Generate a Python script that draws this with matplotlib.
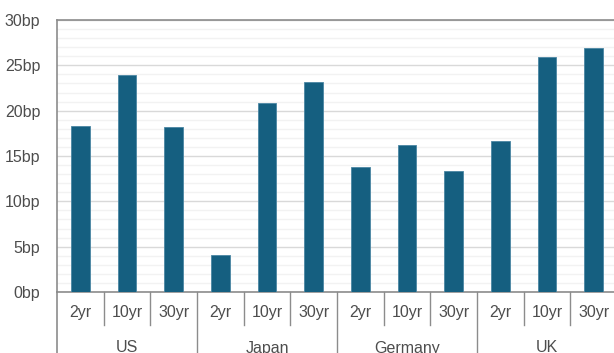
import matplotlib
matplotlib.use('Agg')
import matplotlib.pyplot as plt
from matplotlib import font_manager
from matplotlib.transforms import blended_transform_factory
import numpy as np

# Data
countries = ['US', 'Japan', 'Germany', 'UK']
tenors = ['2yr', '10yr', '30yr']
us = [18.3, 23.9, 18.2]
japan = [4.1, 20.9, 23.2]
germany = [13.8, 16.2, 13.3]
uk = [16.6, 25.9, 26.9]
yticks = [0, 5, 10, 15, 20, 25, 30]
ytick_labels = ['0bp', '5bp', '10bp', '15bp', '20bp', '25bp', '30bp']

BAR = '#155f80'
AXIS = '#8c8c8c'
TEXT = '#4d4d4d'

names = {f.name for f in font_manager.fontManager.ttflist}
if 'Liberation Sans Narrow' in names:
    plt.rcParams['font.family'] = ['Liberation Sans Narrow', 'DejaVu Sans']
    FS = 12.5
else:
    plt.rcParams['font.family'] = ['Liberation Sans', 'DejaVu Sans']
    FS = 11.5

values = us + japan + germany + uk
labels = tenors * len(countries)
x = np.arange(len(values))

W, H = 614, 353
fig = plt.figure(figsize=(W / 100, H / 100), dpi=100)
ax = fig.add_axes([57 / W, (H - 292) / H, 560 / W, 272 / H])

ax.bar(x, values, width=0.4, color=BAR, edgecolor='#4a86a3', linewidth=0.6, zorder=3)

ax.set_xlim(-0.5, len(values) - 0.5)
ax.set_ylim(0, 30)
ax.set_yticks(yticks)
ax.set_yticklabels(ytick_labels)
ax.set_yticks(np.arange(0, 31, 1), minor=True)
ax.grid(axis='y', which='major', color='#d9d9d9', linewidth=1.0, zorder=0)
ax.grid(axis='y', which='minor', color='#f2f2f2', linewidth=1.0, zorder=0)
ax.tick_params(axis='y', which='both', length=0, pad=12, colors=TEXT, labelsize=FS)
ax.set_xticks([])

ax.spines['right'].set_visible(False)
for s in ['top', 'bottom', 'left']:
    ax.spines[s].set_color(AXIS)
    ax.spines[s].set_linewidth(1.2)

trans = blended_transform_factory(ax.transData, ax.transAxes)
px = 1 / 272.0  # one pixel in axes-height units

# left axis continues down to the bottom of the figure
ax.plot([-0.5, -0.5], [0, -61 * px], transform=trans, color=AXIS, lw=1.2, clip_on=False)

# tenor labels and separators
for i, lab in enumerate(labels):
    ax.text(i, -21 * px, lab, transform=trans, ha='center', va='center',
            color=TEXT, fontsize=FS)
for i in range(1, len(values)):
    depth = 61 if i % 3 == 0 else 33
    ax.plot([i - 0.5, i - 0.5], [0, -depth * px], transform=trans,
            color=AXIS, lw=1.0, clip_on=False)

# country labels
for g, name in enumerate(countries):
    ax.text(3 * g + 1, -56 * px, name, transform=trans, ha='center', va='center',
            color=TEXT, fontsize=FS)

fig.savefig('out.png', dpi=100)
